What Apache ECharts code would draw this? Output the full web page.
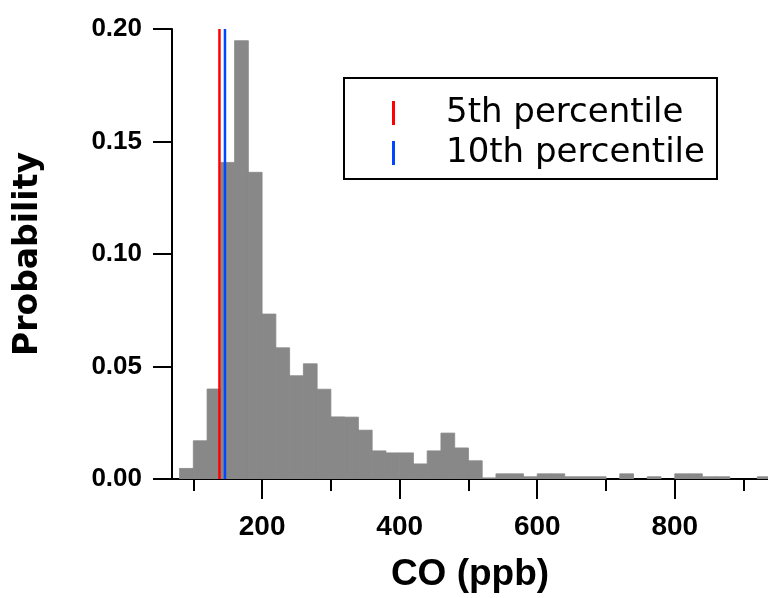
<!DOCTYPE html>
<html><head><meta charset="utf-8">
<script src="https://cdn.jsdelivr.net/npm/echarts@6/dist/echarts.min.js"></script>
<style>html,body{margin:0;padding:0;background:#fff}#c{width:768px;height:598px}</style>
</head><body><div id="c"></div>
<script>
// Histogram bins (CO, ppb)
const binLeft  = [80,100,120,140,160,180,200,220,240,260,280,300,320,340,360,380,400,420,440,460,480,500,520,540,560,580,600,620,640,660,680,700,720,740,760,780,800,820,840,860,880,900,920];
const binRight = [100,120,140,160,180,200,220,240,260,280,300,320,340,360,380,400,420,440,460,480,500,520,540,560,580,600,620,640,660,680,700,720,740,760,780,800,820,840,860,880,900,920,940];
const probability = [0.0047,0.017,0.040,0.1407,0.1948,0.1363,0.0733,0.0583,0.0459,0.0512,0.0399,0.0276,0.0275,0.0217,0.0125,0.0116,0.0116,0.0067,0.0125,0.0204,0.0138,0.0081,0.0005,0.0023,0.0023,0.001,0.0023,0.0023,0.001,0.001,0.001,0,0.0023,0,0.001,0,0.0023,0.0023,0.001,0.001,0,0,0.001];
const percentileNames = ['5th percentile','10th percentile'];
const percentileValues = [138,146];
const percentileColors = ['#ff0000','#0047ff'];
const xMajorTicks = [200,400,600,800];
const xMinorTicks = [100,300,500,700,900];

const barData = binLeft.map((l,i)=>[l, binRight[i], probability[i]]);

const chart = echarts.init(document.getElementById('c'), null, {renderer:'canvas'});
const xCommon = {type:'value', min:69, max:935.5, gridIndex:0, position:'bottom', splitLine:{show:false}};
const option = {
  animation:false,
  backgroundColor:'#ffffff',
  grid:{left:172, right:0, top:29, bottom:115},
  legend:{
    orient:'vertical', left:344, top:78,
    data: percentileNames.map(n=>({name:n, icon:'rect'})),
    itemWidth:3, itemHeight:24, itemGap:4,
    padding:[17,12,8,48],
    borderColor:'#000', borderWidth:2, borderRadius:0,
    backgroundColor:'#fff',
    textStyle:{fontFamily:'DejaVu Sans', fontSize:34, color:'#000', lineHeight:36, padding:[0,0,0,46]}
  },
  xAxis:[
    Object.assign({}, xCommon, {
      name:'CO (ppb)', nameLocation:'middle', nameGap:77,
      nameTextStyle:{fontFamily:'Liberation Sans', fontWeight:'bold', fontSize:37, color:'#000'},
      axisLine:{show:true, onZero:false, lineStyle:{color:'#000', width:2}},
      axisTick:{show:true, length:20, customValues:xMajorTicks, lineStyle:{color:'#000', width:2}},
      axisLabel:{show:true, customValues:xMajorTicks, margin:34, fontFamily:'Liberation Sans', fontWeight:'bold', fontSize:28, color:'#000'}
    }),
    Object.assign({}, xCommon, {
      axisLine:{show:false},
      axisTick:{show:true, length:12, customValues:xMinorTicks, lineStyle:{color:'#000', width:2}},
      axisLabel:{show:false}
    })
  ],
  yAxis:{
    type:'value', min:0, max:0.2, interval:0.05,
    name:'Probability', nameLocation:'middle', nameGap:127, nameRotate:90,
    nameTextStyle:{fontFamily:'DejaVu Sans', fontWeight:'bold', fontSize:33, color:'#000'},
    axisLine:{show:true, onZero:false, lineStyle:{color:'#000', width:2}},
    axisTick:{show:true, length:19, lineStyle:{color:'#000', width:2}},
    axisLabel:{margin:30, fontFamily:'Liberation Sans', fontWeight:'bold', fontSize:26, color:'#000', formatter:v=>v.toFixed(2)},
    splitLine:{show:false}
  },
  series:[
    {
      type:'custom', xAxisIndex:0, yAxisIndex:0, clip:true, z:1,
      encode:{x:[0,1], y:2},
      data:barData,
      renderItem:(params, api)=>{
        const a = api.coord([api.value(0), api.value(2)]);
        const b = api.coord([api.value(1), 0]);
        if (b[1]-a[1] <= 0) return null;
        return {type:'rect', shape:{x:a[0], y:a[1], width:b[0]-a[0], height:b[1]-a[1]},
          style:{fill:'#888888', stroke:'#888888', lineWidth:0.8}};
      }
    }
  ].concat(percentileNames.map((n,i)=>({
    type:'line', name:n, xAxisIndex:0, yAxisIndex:0, z:3,
    data:[[percentileValues[i],0],[percentileValues[i],0.2]],
    showSymbol:false, symbol:'none',
    color:percentileColors[i],
    itemStyle:{color:percentileColors[i]},
    lineStyle:{color:percentileColors[i], width:2.5}
  })))
};
chart.setOption(option);
</script></body></html>
